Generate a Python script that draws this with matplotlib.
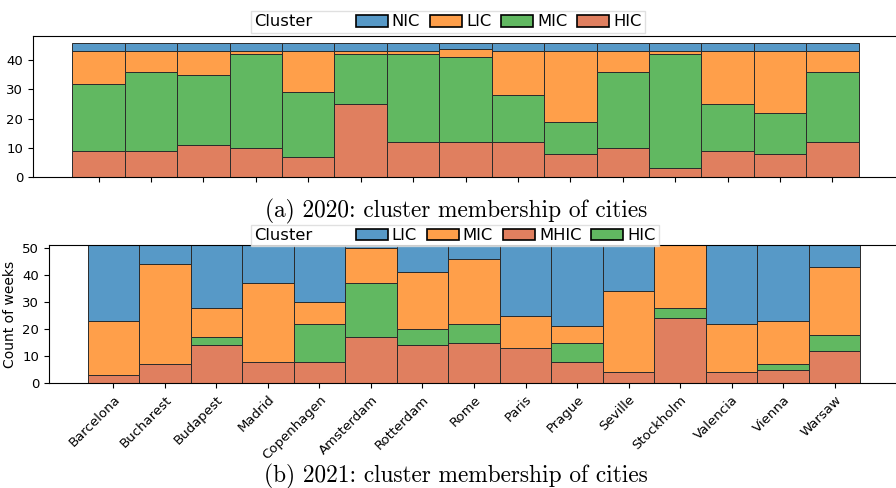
import matplotlib
matplotlib.use('Agg')
import matplotlib.pyplot as plt
from matplotlib.patches import Patch
from matplotlib.offsetbox import HPacker

cities = ['Barcelona', 'Bucharest', 'Budapest', 'Madrid', 'Copenhagen', 'Amsterdam',
          'Rotterdam', 'Rome', 'Paris', 'Prague', 'Seville', 'Stockholm', 'Valencia',
          'Vienna', 'Warsaw']

# 2020: weeks per cluster (46 weeks)
hic_2020 = [9, 9, 11, 10, 7, 25, 12, 12, 12, 8, 10, 3, 9, 8, 12]
mic_2020 = [23, 27, 24, 32, 22, 17, 30, 29, 16, 11, 26, 39, 16, 14, 24]
lic_2020 = [11, 7, 8, 1, 14, 1, 1, 3, 15, 24, 7, 1, 18, 21, 7]
nic_2020 = [3, 3, 3, 3, 3, 3, 3, 2, 3, 3, 3, 3, 3, 3, 3]

# 2021: weeks per cluster (51 weeks)
mhic_2021 = [3, 7, 14, 8, 8, 17, 14, 15, 13, 8, 4, 24, 4, 5, 12]
hic_2021 = [0, 0, 3, 0, 14, 20, 6, 7, 0, 7, 0, 4, 0, 2, 6]
mic_2021 = [20, 37, 11, 29, 8, 13, 21, 24, 12, 6, 30, 23, 18, 16, 25]
lic_2021 = [28, 7, 23, 14, 21, 1, 10, 5, 26, 30, 17, 0, 29, 28, 8]

BLUE = '#5799c7'
ORANGE = '#ff9f4a'
GREEN = '#61b861'
SALMON = '#e07f5f'
EDGE = '#2b2b2b'

W, H = 896, 488
fig = plt.figure(figsize=(W / 100, H / 100), dpi=100)

ax1 = fig.add_axes([33 / W, 1 - 177 / H, 865 / W, 141 / H])
ax2 = fig.add_axes([49 / W, 1 - 383.3 / H, 850 / W, 138 / H])

x = list(range(len(cities)))


def stack(ax, layers):
    bottom = [0] * len(x)
    for vals, col in layers:
        ax.bar(x, vals, bottom=bottom, width=1, color=col,
               edgecolor=EDGE, linewidth=0.7)
        bottom = [b + v for b, v in zip(bottom, vals)]


stack(ax1, [(hic_2020, SALMON), (mic_2020, GREEN), (lic_2020, ORANGE), (nic_2020, BLUE)])
stack(ax2, [(mhic_2021, SALMON), (hic_2021, GREEN), (mic_2021, ORANGE), (lic_2021, BLUE)])

for ax in (ax1, ax2):
    ax.set_xticks(x)
    ax.tick_params(labelsize=9.5)
    ax.spines['right'].set_visible(False)

ax1.set_yticks([0, 10, 20, 30, 40])
ax2.set_yticks([0, 10, 20, 30, 40, 50])
ax1.set_xticklabels([])
ax2.set_xticklabels(cities, rotation=45, ha='right', rotation_mode='anchor')
ax2.set_ylabel('Count of weeks', fontsize=10)


def cluster_legend(ax, names, colors, center):
    handles = [Patch(facecolor=c, edgecolor='black', linewidth=1.2) for c in colors]
    leg = ax.legend(handles, names, title='Cluster', ncol=len(names), loc='center',
                    bbox_to_anchor=center, bbox_transform=fig.transFigure,
                    fontsize=11.8, title_fontsize=11.8, handlelength=1.95,
                    handleheight=0.7, handletextpad=0.25, columnspacing=0.6,
                    borderpad=0.2, fancybox=False, edgecolor='0.85', framealpha=0.8)
    # put the title on the same row as the entries
    fs = leg._fontsize
    box = HPacker(pad=leg.borderpad * fs, sep=31, align='center',
                  children=[leg._legend_title_box, leg._legend_handle_box])
    box.set_figure(fig)
    box.axes = ax
    box.set_offset(leg._findoffset)
    leg._legend_box = box
    return leg


cluster_legend(ax1, ['NIC', 'LIC', 'MIC', 'HIC'], [BLUE, ORANGE, GREEN, SALMON],
               (448 / W, 1 - 22 / H))
cluster_legend(ax2, ['LIC', 'MIC', 'MHIC', 'HIC'], [BLUE, ORANGE, SALMON, GREEN],
               (455 / W, 1 - 235.5 / H))

fig.text(456 / W, 1 - 217.3 / H, '(a) 2020: cluster membership of cities',
         ha='center', va='baseline', fontsize=16.8, family='cmr10')
fig.text(456 / W, 1 - 482.5 / H, '(b) 2021: cluster membership of cities',
         ha='center', va='baseline', fontsize=16.8, family='cmr10')

fig.savefig('out.png', dpi=100)
